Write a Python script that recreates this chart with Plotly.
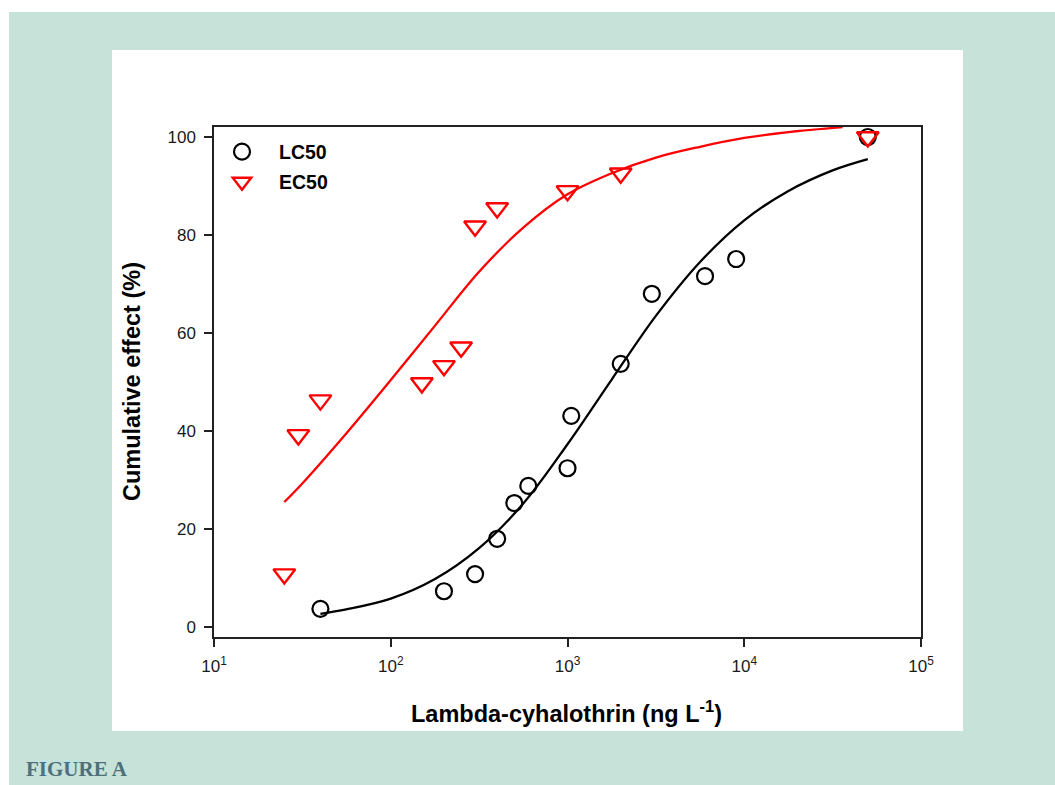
import plotly.graph_objects as go

# ---- data ----
lc50_x = [40, 200, 300, 400, 500, 600, 1000, 1050, 2000, 3000, 6000, 9000, 50000]
lc50_y = [3.7, 7.3, 10.8, 18.0, 25.3, 28.8, 32.4, 43.1, 53.7, 68.0, 71.6, 75.1, 100.0]

ec50_x = [25, 30, 40, 150, 200, 250, 300, 400, 1000, 2000, 50000]
ec50_y = [10.8, 39.2, 46.3, 49.8, 53.3, 57.1, 81.8, 85.5, 89.0, 92.6, 100.0]

# fitted curves
lc_fit_x = [40, 56, 100, 178, 316, 562, 1000, 1778, 3162, 5623, 10000, 17783, 31623, 50000]
lc_fit_y = [2.7, 3.6, 5.8, 9.8, 16.1, 25.2, 37.3, 50.5, 63.5, 74.5, 83.0, 89.0, 93.2, 95.5]

ec_fit_x = [25, 31.6, 56, 100, 178, 316, 562, 1000, 1778, 3162, 5623, 10000, 17783, 36000]
ec_fit_y = [25.5, 29.3, 39.5, 50.4, 61.5, 72.5, 81.5, 88.3, 92.6, 95.8, 98.0, 99.8, 101.0, 102.0]

x_tickvals = [10, 100, 1000, 10000, 100000]
x_ticktext = ["10<sup>1</sup>", "10<sup>2</sup>", "10<sup>3</sup>", "10<sup>4</sup>", "10<sup>5</sup>"]
y_tickvals = [0, 20, 40, 60, 80, 100]

# ---- layout geometry (screen pixels; page margin removed) ----
W, H = 1055, 785
L, R, T, B = 214, 921, 127, 637
pw, ph = R - L, B - T

def fx(px):
    return (px - L) / pw

def fy(py):
    return (B - py) / ph

SANS = "Liberation Sans, Arial"

fig = go.Figure()

fig.add_trace(go.Scatter(x=lc_fit_x, y=lc_fit_y, mode="lines", line=dict(color="black", width=2.3, shape="spline"),
                         showlegend=False, hoverinfo="skip"))
fig.add_trace(go.Scatter(x=ec_fit_x, y=ec_fit_y, mode="lines", line=dict(color="#ff0000", width=2.3, shape="spline"),
                         showlegend=False, hoverinfo="skip"))
fig.add_trace(go.Scatter(x=lc50_x, y=lc50_y, mode="markers", name="<b>LC50</b>",
                         marker=dict(symbol="circle-open", size=16, color="black", line=dict(width=2.2, color="black")),
                         cliponaxis=False, legend="legend"))
fig.add_trace(go.Scatter(x=ec50_x, y=ec50_y, mode="markers", name="<b>EC50</b>",
                         marker=dict(symbol="triangle-down-open", size=19, color="#ff0000", line=dict(width=2.4, color="#ff0000")),
                         cliponaxis=False, legend="legend2"))

axis_common = dict(showline=True, linecolor="#222222", linewidth=1.5, mirror=True, ticks="outside",
                   ticklen=8, tickwidth=1.5, tickcolor="#222222", showgrid=False, zeroline=False,
                   ticklabelstandoff=5,
                   tickfont=dict(family=SANS, size=17, color="#1a1a1a"))

legend_common = dict(xanchor="left", yanchor="middle", bgcolor="rgba(0,0,0,0)", itemwidth=64,
                     font=dict(family=SANS, size=19.5, color="black"))

fig.update_layout(
    width=W, height=H,
    margin=dict(l=L, r=W - R, t=T, b=H - B, pad=0),
    paper_bgcolor="white", plot_bgcolor="rgba(0,0,0,0)",
    xaxis=dict(type="log", range=[1, 5], tickvals=x_tickvals, ticktext=x_ticktext, **axis_common),
    yaxis=dict(range=[-2.04, 102.04], tickvals=y_tickvals, **axis_common),
    legend=dict(x=fx(205), y=fy(152), **legend_common),
    legend2=dict(x=fx(205), y=fy(182), **legend_common),
    shapes=[
        dict(type="rect", xref="paper", yref="paper", x0=fx(9), x1=fx(1070), y0=fy(12), y1=fy(800),
             fillcolor="#c7e3d9", line=dict(width=0), layer="below"),
        dict(type="rect", xref="paper", yref="paper", x0=fx(112), x1=fx(963), y0=fy(50), y1=fy(731),
             fillcolor="white", line=dict(width=0), layer="below"),
    ],
    annotations=[
        dict(text="<b>Lambda-cyhalothrin (ng L<sup>-1</sup>)</b>", xref="paper", yref="paper",
             x=fx(566), y=fy(712), xanchor="center", yanchor="middle", showarrow=False,
             font=dict(family=SANS, size=23.5, color="black")),
        dict(text="<b>Cumulative effect (%)</b>", xref="paper", yref="paper", textangle=-90,
             x=fx(132), y=fy(382), xanchor="center", yanchor="middle", showarrow=False,
             font=dict(family=SANS, size=23.5, color="black")),
        dict(text="<b>FIGURE A</b>", xref="paper", yref="paper",
             x=fx(24), y=fy(769), xanchor="left", yanchor="middle", showarrow=False,
             font=dict(family="Liberation Serif, DejaVu Serif", size=21, color="#4e7079")),
    ],
)

fig.write_html("out.html", config={"displayModeBar": False},
               post_script="document.body.style.margin='0';document.documentElement.style.overflow='hidden';")
